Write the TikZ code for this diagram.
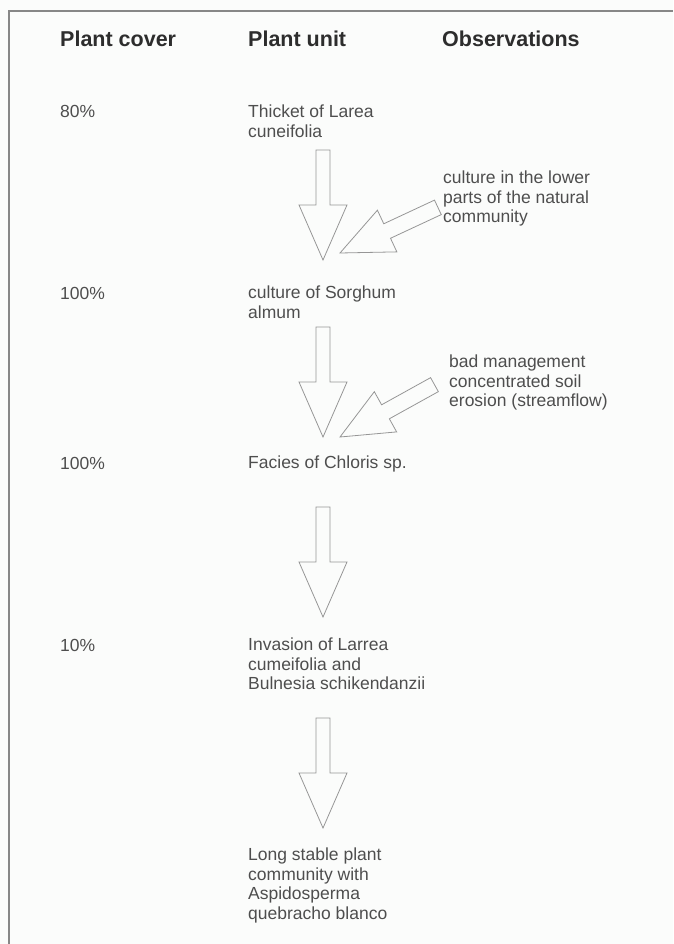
\documentclass[tikz,border=0pt]{standalone}
\usepackage{fontspec}
\setmainfont{Liberation Sans}
\definecolor{inkgray}{RGB}{78, 78, 78}
\definecolor{headgray}{RGB}{45, 45, 45}
\definecolor{linegray}{RGB}{150, 150, 150}
\definecolor{framegray}{RGB}{135, 135, 135}
\definecolor{paper}{RGB}{251, 252, 251}
\usetikzlibrary{positioning, calc}

\tikzset{
  head/.style={anchor=base west, inner sep=0pt, text=headgray,
               font=\fontsize{21.5}{24}\selectfont\bfseries},
  cover/.style={anchor=base west, inner sep=0pt, text=inkgray,
                font=\fontsize{17.5}{19.5}\selectfont},
  unit/.style={anchor=north west, inner sep=0pt, align=left, text=inkgray,
               font=\fontsize{17.5}{19.5}\selectfont},
  downarrow/.pic={
    \draw[linegray, line width=0.8pt, line join=miter]
      (0,0) -- (-55,24) -- (-55,7) -- (-110,7) -- (-110,-7) -- (-55,-7) -- (-55,-24) -- cycle;
  },
  sidearrow/.pic={
    \draw[linegray, line width=0.8pt, line join=miter]
      (0,0) -- (-52,23) -- (-52,8) -- (-108,8) -- (-108,-8) -- (-52,-8) -- (-52,-23) -- cycle;
  }
}

\begin{document}
\begin{tikzpicture}[x=1pt, y=-1pt]
  % paper and frame
  \fill[paper] (0,0) rectangle (673,944);
  \useasboundingbox (0,0) rectangle (673,944);
  \draw[framegray, line width=1.4pt] (9,944) -- (9,11) -- (673,11);

  % column heads
  \node[head] (hcover) at (60,47) {Plant cover};
  \node[head] (hunit) at (248,47) {Plant unit};
  \node[head] (hobs) at (442,47) {Observations};

  % plant cover
  \node[cover] (c80) at (60,118) {80\%};
  \node[cover] (c100a) at (60,299) {100\%};
  \node[cover] (c100b) at (60,469) {100\%};
  \node[cover] (c10) at (60,651) {10\%};

  % plant units
  \node[unit] (thicket) at (248,105) {Thicket of Larea\\cuneifolia};
  \node[unit] (sorghum) at (248,286) {culture of Sorghum\\almum};
  \node[unit] (chloris) at (248,456) {Facies of Chloris sp.};
  \node[unit] (invasion) at (248,638) {Invasion of Larrea\\cumeifolia and\\Bulnesia schikendanzii};
  \node[unit] (stable) at (248,848) {Long stable plant\\community with\\Aspidosperma\\quebracho blanco};

  % observations
  \node[unit] (obslow) at (443,171) {culture in the lower\\parts of the natural\\community};
  \node[unit] (obsbad) at (449,355) {bad management\\concentrated soil\\erosion (streamflow)};

  % succession arrows
  \coordinate (t1) at (323,260);
  \coordinate (t2) at (323,437);
  \coordinate (t3) at (323,617);
  \coordinate (t4) at (323,828);
  \pic[rotate=-90] at (t1) {downarrow};
  \pic[rotate=-90] at (t2) {downarrow};
  \pic[rotate=-90] at (t3) {downarrow};
  \pic[rotate=-90] at (t4) {downarrow};

  % disturbance arrows
  \coordinate (s1) at (340,253);
  \coordinate (s2) at (340,437);
  \pic[rotate=205] at (s1) {sidearrow};
  \pic[rotate=209] at (s2) {sidearrow};
\end{tikzpicture}
\end{document}
